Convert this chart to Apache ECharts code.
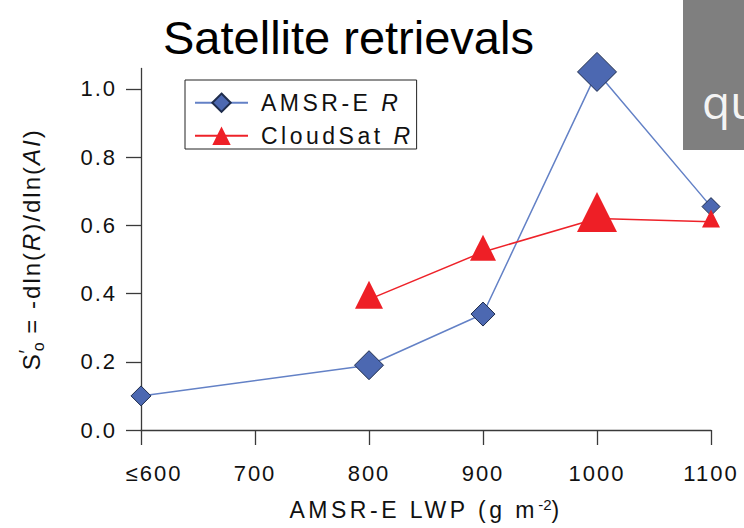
<!DOCTYPE html>
<html>
<head>
<meta charset="utf-8">
<script src="https://cdn.jsdelivr.net/npm/echarts@6/dist/echarts.min.js"></script>
<style>
  html, body { margin: 0; padding: 0; background: #fff; }
  #chart { width: 744px; height: 528px; }
  /* widely tracked lettering for axis text and legend */
  #chart text[style*="Liberation Sans"][style*="22px"] { letter-spacing: 2px; }
  #chart text[style*="Liberation Sans"][style*="23px"] { letter-spacing: 3.5px; }
  #chart text[style*="Liberation Sans"][style*="24px"] { letter-spacing: 2px; }
</style>
</head>
<body>
<div id="chart"></div>
<script>
// LWP bins (g m^-2) and susceptibility values
const amsrLwp = [600, 800, 900, 1000, 1100];
const amsrS = [0.10, 0.19, 0.34, 1.05, 0.655];
const amsrMarker = [20, 29, 24, 39, 18];

const cloudsatLwp = [800, 900, 1000, 1100];
const cloudsatS = [0.383, 0.522, 0.62, 0.611];
const cloudsatMarker = [28, 26, 40, 18];

const xTickValues = [600, 700, 800, 900, 1000, 1100];
const xTickLabels = ['≤600', '700', '800', '900', '1000', '1100'];
const yTickValues = [0, 0.2, 0.4, 0.6, 0.8, 1.0];
const yTickLabels = ['0.0', '0.2', '0.4', '0.6', '0.8', '1.0'];

const FONT = "'Liberation Sans'";
const INK = '#111';
const AXIS = '#3a3a3a';

// text measurement that accounts for the letter spacing set in the stylesheet
const TRACKING = { 22: 2, 23: 3.5, 24: 2 };
const measureCtx = document.createElement('canvas').getContext('2d');
echarts.setPlatformAPI({
  measureText(text, font) {
    measureCtx.font = font;
    let w = measureCtx.measureText(text).width;
    if (font && font.indexOf('Liberation Sans') >= 0) {
      const m = /(\d+(?:\.\d+)?)px/.exec(font);
      const sp = m ? (TRACKING[m[1]] || 0) : 0;
      w += sp * Array.from(text).length;
    }
    return { width: w };
  }
});

function points(xs, ys, sizes) {
  return xs.map((x, i) => ({ value: [x, ys[i]], symbolSize: sizes[i] }));
}

const chart = echarts.init(document.getElementById('chart'), null, { renderer: 'svg' });

chart.setOption({
  animation: false,
  backgroundColor: '#fff',
  title: {
    text: 'Satellite retrievals',
    left: 158,
    top: 9,
    textStyle: { fontFamily: 'Arial', fontSize: 47, fontWeight: 'normal', color: '#000' }
  },
  graphic: [
    { type: 'rect', left: 683, top: 0, shape: { width: 61, height: 150 }, style: { fill: '#7f7f7f' }, z: 10 },
    { type: 'text', left: 702, top: 78, style: { text: 'qu', fill: '#f4f4f4', font: "46px 'Open Sans', sans-serif" }, z: 11 }
  ],
  legend: {
    orient: 'vertical',
    left: 185,
    top: 80,
    padding: [9.5, 3, 0, 9],
    itemGap: 6.5,
    itemWidth: 53,
    itemHeight: 23,
    borderColor: '#222',
    borderWidth: 1,
    data: ['AMSR-E', 'CloudSat'],
    formatter: name => '{n|' + name + ' }{i|R}',
    textStyle: {
      fontFamily: FONT, fontSize: 23, color: INK,
      rich: {
        n: { fontFamily: FONT, fontSize: 23, color: INK, lineHeight: 26, padding: [0, 0, 0, 8] },
        i: { fontFamily: FONT, fontSize: 23, color: INK, lineHeight: 26, fontStyle: 'italic' }
      }
    }
  },
  grid: { left: 141, right: 33, top: 68.5, bottom: 98, containLabel: false, outerBoundsMode: 'none' },
  xAxis: {
    type: 'value',
    min: 600, max: 1100, interval: 100,
    offset: 7,
    name: '{m|AMSR-E LWP (g m}{sup|-2}{m|)}',
    nameLocation: 'middle',
    nameGap: 60,
    nameTextStyle: {
      fontFamily: FONT, fontSize: 23, color: INK, lineHeight: 26,
      rich: {
        m: { fontFamily: FONT, fontSize: 23, color: INK, lineHeight: 26 },
        sup: { fontFamily: FONT, fontSize: 15, color: INK, lineHeight: 14, verticalAlign: 'top' }
      }
    },
    axisLine: { show: true, lineStyle: { color: AXIS, width: 1.3 } },
    axisTick: { show: true, inside: false, length: 15, lineStyle: { color: AXIS, width: 1.3 } },
    axisLabel: {
      margin: 24,
      fontFamily: FONT, fontSize: 22, color: INK,
      formatter: v => {
        const i = xTickValues.indexOf(v);
        if (i < 0) return '';
        return i === 0 ? '{first|' + xTickLabels[i] + '}' : xTickLabels[i];
      },
      rich: {
        first: { fontFamily: FONT, fontSize: 22, color: INK, padding: [0, 0, 0, 26] }
      }
    },
    splitLine: { show: false }
  },
  yAxis: {
    type: 'value',
    min: 0, max: 1.06,
    name: '{s|S}{p|′}{o|o}{t| = -dln(}{i|R}{t|)/dln(}{i|AI}{t|)}',
    nameLocation: 'middle',
    nameRotate: 90,
    nameGap: 95,
    nameTextStyle: {
      fontFamily: FONT, fontSize: 24, color: INK,
      rich: {
        s: { fontFamily: FONT, fontSize: 24, color: INK, lineHeight: 30 },
        p: { fontFamily: FONT, fontSize: 20, color: INK, lineHeight: 14, verticalAlign: 'top', width: 1 },
        o: { fontFamily: FONT, fontSize: 16, color: INK, lineHeight: 14, verticalAlign: 'bottom' },
        t: { fontFamily: FONT, fontSize: 24, color: INK, lineHeight: 30 },
        i: { fontFamily: FONT, fontSize: 24, color: INK, lineHeight: 30, fontStyle: 'italic' }
      }
    },
    axisLine: { show: true, lineStyle: { color: AXIS, width: 1.3 } },
    axisTick: { show: true, inside: false, length: 15, customValues: yTickValues, lineStyle: { color: AXIS, width: 1.3 } },
    axisLabel: {
      margin: 24,
      fontFamily: FONT, fontSize: 22, color: INK,
      customValues: yTickValues,
      formatter: v => { const i = yTickValues.findIndex(t => Math.abs(t - v) < 1e-9); return i >= 0 ? yTickLabels[i] : ''; }
    },
    splitLine: { show: false }
  },
  series: [
    {
      name: 'AMSR-E',
      type: 'line',
      clip: false,
      symbol: 'diamond',
      data: points(amsrLwp, amsrS, amsrMarker),
      lineStyle: { color: '#6381c6', width: 1.5 },
      itemStyle: { color: '#4c68b1', borderColor: '#1e2c4c', borderWidth: 1 },
      z: 3
    },
    {
      name: 'CloudSat',
      type: 'line',
      clip: false,
      symbol: 'triangle',
      symbolOffset: [0, '-16.7%'],
      data: points(cloudsatLwp, cloudsatS, cloudsatMarker),
      lineStyle: { color: '#ee2229', width: 1.5 },
      itemStyle: { color: '#ee1f26', borderWidth: 0 },
      z: 4
    }
  ]
});
</script>
</body>
</html>
